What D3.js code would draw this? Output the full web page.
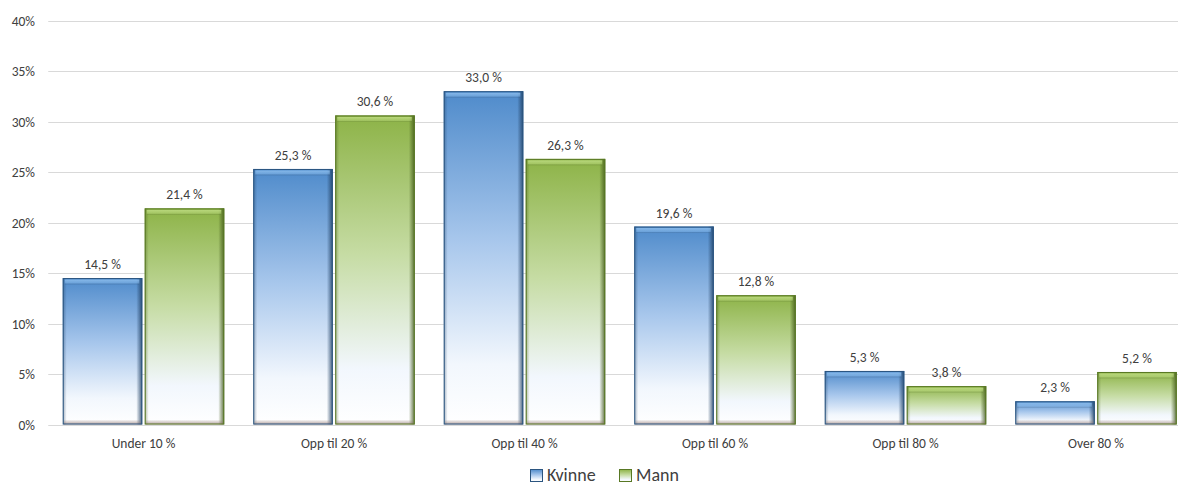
<!DOCTYPE html>
<html>
<head>
<meta charset="utf-8">
<script src="https://cdn.jsdelivr.net/npm/d3@7"></script>
<style>
  body { margin: 0; background: #fff; }
  svg { display: block; font-family: Carlito, Calibri, Lato, "Open Sans", sans-serif; }
</style>
</head>
<body>
<svg id="chart" width="1178" height="485"></svg>
<script>
const categories = ["Under 10 %", "Opp til 20 %", "Opp til 40 %", "Opp til 60 %", "Opp til 80 %", "Over 80 %"];
const seriesNames = ["Kvinne", "Mann"];
const kvinne = [14.5, 25.3, 33.0, 19.6, 5.3, 2.3];
const mann = [21.4, 30.6, 26.3, 12.8, 3.8, 5.2];
const yTicks = [0, 5, 10, 15, 20, 25, 30, 35, 40];

const svg = d3.select("#chart");
const W = 1178;
const left = 48.25, band = 190.5;

// the plot area runs a little past the right edge of the canvas
const x0 = d3.scaleBand().domain(categories).range([left, left + band * categories.length]);
const x1 = d3.scaleBand().domain(seriesNames).range([14.5, band - 14.5]).paddingInner(0.03);
const y = d3.scaleLinear().domain([0, 40]).range([424.5, 20.5]);

const palette = {
  Kvinne: { top: "#4f8bcb", mid: "#a8c7ec", edge: "#2b5580", light: "#8cbdec", shadow: "#1f3f63" },
  Mann:   { top: "#8db347", mid: "#c6dca4", edge: "#587824", light: "#bddb82", shadow: "#42591a" }
};

const defs = svg.append("defs");
seriesNames.forEach(s => {
  const c = palette[s];
  const g = defs.append("linearGradient").attr("id", "fill-" + s).attr("x1", 0).attr("y1", 0).attr("x2", 0).attr("y2", 1);
  g.append("stop").attr("offset", "0%").attr("stop-color", c.top);
  g.append("stop").attr("offset", "45%").attr("stop-color", c.mid);
  g.append("stop").attr("offset", "82%").attr("stop-color", "#f2f7fd");
  g.append("stop").attr("offset", "100%").attr("stop-color", "#ffffff");
  const r = defs.append("linearGradient").attr("id", "right-" + s).attr("x1", 0).attr("y1", 0).attr("x2", 1).attr("y2", 0);
  r.append("stop").attr("offset", "0%").attr("stop-color", c.shadow).attr("stop-opacity", 0);
  r.append("stop").attr("offset", "100%").attr("stop-color", c.shadow).attr("stop-opacity", 0.85);
  const l = defs.append("linearGradient").attr("id", "left-" + s).attr("x1", 0).attr("y1", 0).attr("x2", 1).attr("y2", 0);
  l.append("stop").attr("offset", "0%").attr("stop-color", c.shadow).attr("stop-opacity", 0.4);
  l.append("stop").attr("offset", "100%").attr("stop-color", c.shadow).attr("stop-opacity", 0);
  const t = defs.append("linearGradient").attr("id", "top-" + s).attr("x1", 0).attr("y1", 0).attr("x2", 0).attr("y2", 1);
  t.append("stop").attr("offset", "0%").attr("stop-color", c.light).attr("stop-opacity", 0.9);
  t.append("stop").attr("offset", "70%").attr("stop-color", c.light).attr("stop-opacity", 0.45);
  t.append("stop").attr("offset", "100%").attr("stop-color", c.shadow).attr("stop-opacity", 0.2);
});
const bot = defs.append("linearGradient").attr("id", "bottom-shade").attr("x1", 0).attr("y1", 0).attr("x2", 0).attr("y2", 1);
bot.append("stop").attr("offset", "0%").attr("stop-color", "#8a6f6a").attr("stop-opacity", 0);
bot.append("stop").attr("offset", "100%").attr("stop-color", "#8a6f6a").attr("stop-opacity", 0.65);

// gridlines
svg.append("g").selectAll("line").data(yTicks).join("line")
  .attr("x1", left).attr("x2", W)
  .attr("y1", d => Math.round(y(d)) + 0.5).attr("y2", d => Math.round(y(d)) + 0.5)
  .attr("stroke", "#d9d9d9").attr("stroke-width", 1);

// y tick labels
svg.append("g").selectAll("text").data(yTicks).join("text")
  .attr("x", 35).attr("y", d => y(d) + 5)
  .attr("text-anchor", "end").attr("font-size", 13.5).attr("fill", "#404040")
  .text(d => d + "%");

const rows = categories.map((c, i) => ({ cat: c, vals: [
  { s: "Kvinne", v: kvinne[i] }, { s: "Mann", v: mann[i] }
]}));

const groups = svg.append("g").selectAll("g").data(rows).join("g")
  .attr("transform", d => `translate(${x0(d.cat)},0)`);

const bw = x1.bandwidth();
const bev = 4;

groups.selectAll("g.bar").data(d => d.vals).join("g").attr("class", "bar").each(function(d) {
  const g = d3.select(this);
  const bx = x1(d.s), by = y(d.v), bh = y(0) - y(d.v);
  const c = palette[d.s];
  g.append("rect").attr("x", bx).attr("y", by).attr("width", bw).attr("height", bh)
    .attr("fill", `url(#fill-${d.s})`);
  // bevelled edges
  g.append("rect").attr("x", bx).attr("y", by).attr("width", bev).attr("height", bh)
    .attr("fill", `url(#left-${d.s})`);
  g.append("rect").attr("x", bx + bw - bev - 2).attr("y", by).attr("width", bev + 2).attr("height", bh)
    .attr("fill", `url(#right-${d.s})`);
  const th = Math.min(5, bh / 3);
  g.append("rect").attr("x", bx + 2).attr("y", by + 1.5).attr("width", bw - 5).attr("height", th)
    .attr("fill", `url(#top-${d.s})`);
  const bb = Math.min(5, bh / 3);
  g.append("rect").attr("x", bx + 1).attr("y", by + bh - bb).attr("width", bw - 2).attr("height", bb)
    .attr("fill", "url(#bottom-shade)");
  g.append("rect").attr("x", bx + 0.5).attr("y", by + 0.5).attr("width", bw - 1).attr("height", bh - 1)
    .attr("fill", "none").attr("stroke", c.edge).attr("stroke-width", 1);
  // value label
  g.append("text").attr("x", bx + bw / 2).attr("y", by - 9)
    .attr("text-anchor", "middle").attr("font-size", 13.5).attr("fill", "#404040")
    .text(d.v.toFixed(1).replace(".", ",") + " %");
});

// category labels
svg.append("g").selectAll("text").data(categories).join("text")
  .attr("x", d => x0(d) + x0.bandwidth() / 2).attr("y", 448)
  .attr("text-anchor", "middle").attr("font-size", 13.5).attr("fill", "#404040")
  .text(d => d);

// legend
const legend = svg.append("g").attr("transform", "translate(530,481)");
const items = [{ s: "Kvinne", x: 0 }, { s: "Mann", x: 89 }];
items.forEach(it => {
  const c = palette[it.s];
  const lg = legend.append("g").attr("transform", `translate(${it.x},0)`);
  lg.append("rect").attr("x", 0.5).attr("y", -11.5).attr("width", 12).attr("height", 12)
    .attr("fill", `url(#fill-${it.s})`).attr("stroke", c.edge);
  lg.append("text").attr("x", 17).attr("y", 0).attr("font-size", 18).attr("fill", "#404040").text(it.s);
});
</script>
</body>
</html>
